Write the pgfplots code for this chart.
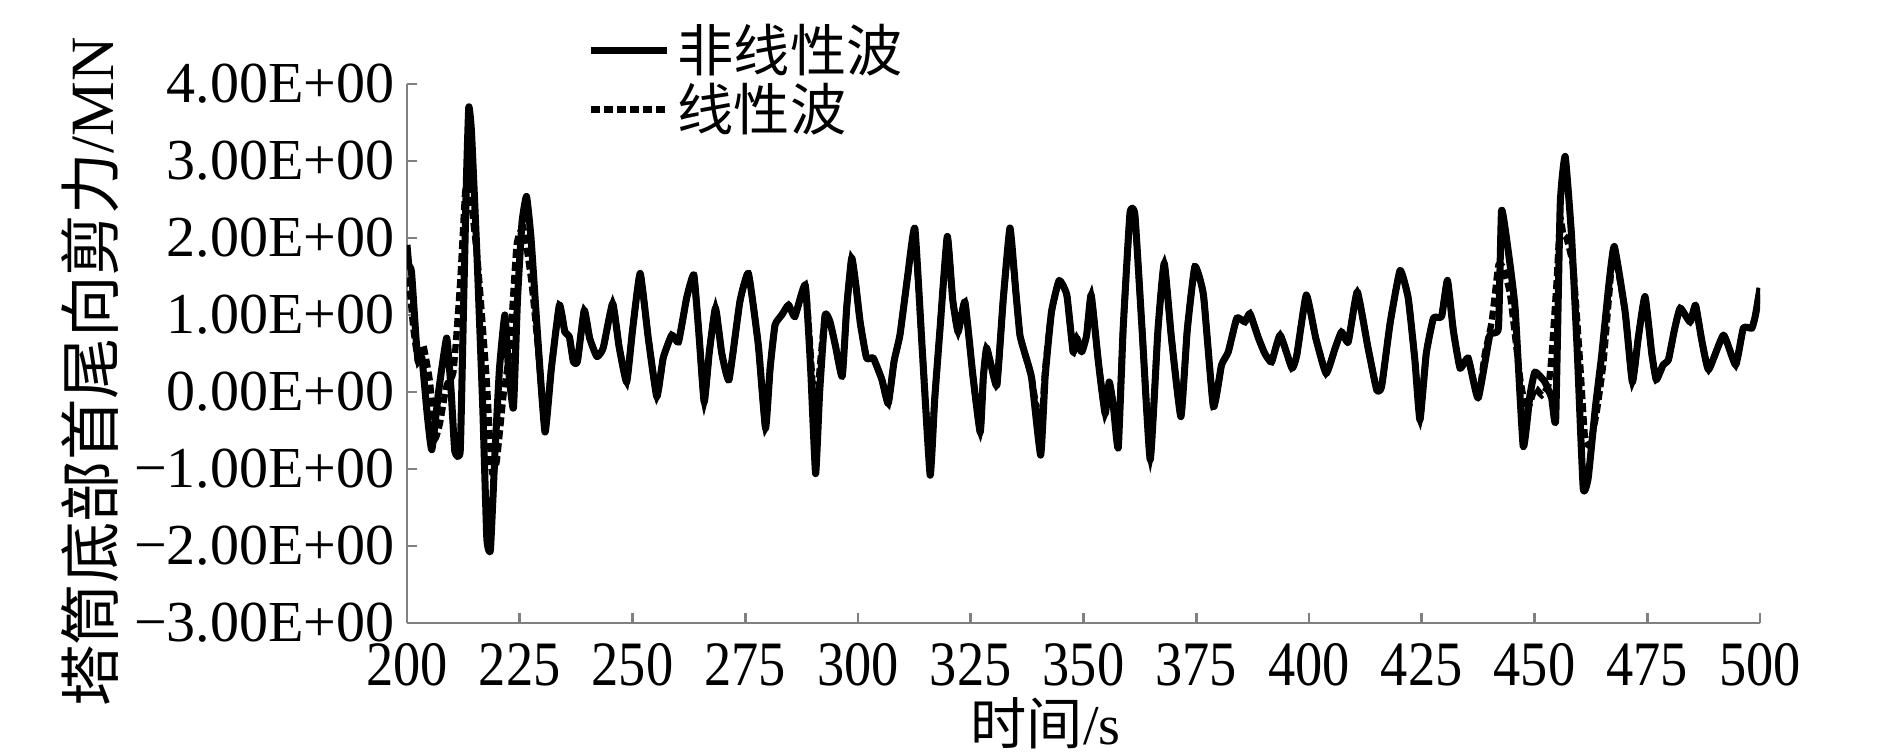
\documentclass[border=0pt]{standalone}
\usepackage{fontspec}
\setmainfont{Liberation Serif}
\newfontfamily\cjk{Noto Sans CJK SC}
\usepackage{graphicx}
\usepackage{pgfplots}
\pgfplotsset{compat=1.18}

% nonlinear wave (solid)
\pgfplotstableread{
t v
200.0 1.91
200.4 1.65
201.0 1.56
202.0 0.70
202.5 0.39
203.3 0.45
204.5 -0.30
205.5 -0.75
207.0 0.00
208.8 0.70
209.8 0.00
210.6 -0.77
211.8 -0.77
212.5 1.00
213.2 2.80
213.7 3.70
214.3 3.38
215.5 1.80
216.8 -0.20
217.7 -1.90
218.5 -2.05
219.5 -0.80
220.5 0.30
221.7 1.00
222.5 0.30
223.6 -0.21
224.5 1.20
225.5 2.20
226.5 2.54
227.5 2.00
229.0 0.70
230.6 -0.52
232.0 0.30
233.8 1.13
235.0 0.78
236.0 0.72
236.9 0.39
237.8 0.40
239.3 1.06
240.5 0.70
242.1 0.46
243.5 0.57
245.6 1.15
247.0 0.60
248.7 0.13
250.0 0.80
251.7 1.54
253.5 0.70
255.4 -0.06
256.8 0.44
258.7 0.74
260.2 0.65
262.0 1.22
263.6 1.52
264.8 0.70
265.9 -0.13
267.0 0.50
268.4 1.09
269.8 0.50
271.4 0.16
273.8 1.17
275.7 1.54
277.9 0.61
279.5 -0.47
280.5 0.30
281.6 0.87
283.1 1.00
284.6 1.13
286.0 0.98
288.3 1.39
289.5 0.30
290.6 -1.06
291.5 0.00
292.7 1.00
293.8 0.91
295.0 0.60
296.5 0.20
297.5 1.10
298.6 1.74
299.5 1.40
300.5 0.90
301.9 0.44
303.4 0.44
305.3 0.16
306.7 -0.15
308.0 0.40
309.3 0.74
311.0 1.50
312.6 2.13
314.3 0.50
316.0 -1.08
317.0 -0.10
318.2 0.83
319.8 2.02
321.0 1.20
322.2 0.78
323.7 1.17
325.5 0.20
327.1 -0.52
327.8 0.20
328.5 0.57
329.5 0.35
330.8 0.09
332.2 1.20
333.7 2.13
335.0 1.30
335.9 0.74
337.0 0.50
338.5 0.18
340.5 -0.82
341.5 0.20
342.9 1.04
344.6 1.45
346.3 1.26
347.7 0.52
348.5 0.70
349.6 0.52
350.7 0.74
351.7 1.26
353.3 0.39
354.8 -0.28
355.7 0.13
356.6 -0.17
357.7 -0.73
358.8 0.83
360.3 2.32
361.4 2.30
363.0 0.80
364.8 -0.88
366.5 0.80
367.9 1.67
369.5 0.70
371.6 -0.32
373.0 0.80
374.7 1.63
376.6 1.26
378.8 -0.19
380.6 0.35
382.1 0.52
384.0 0.96
385.8 0.91
386.9 1.02
388.8 0.70
390.2 0.50
391.7 0.39
393.6 0.74
396.2 0.31
397.3 0.48
399.4 1.26
401.5 0.70
403.8 0.24
405.8 0.57
407.2 0.78
408.7 0.65
410.7 1.30
413.0 0.60
415.0 0.03
416.1 0.07
418.0 0.90
420.2 1.58
422.0 1.22
423.5 0.40
424.6 -0.36
426.0 0.50
427.6 0.96
429.4 0.98
430.7 1.45
432.0 0.80
433.5 0.31
435.3 0.44
437.5 -0.08
440.1 0.74
442.0 0.83
442.7 2.36
444.2 1.82
445.7 1.09
447.5 -0.71
449.0 -0.04
450.1 0.26
452.3 0.13
453.8 -0.08
454.7 -0.36
455.7 2.43
456.8 3.06
458.2 2.04
459.5 0.50
460.8 -1.25
461.9 -1.12
463.5 -0.20
464.9 0.48
466.5 1.40
467.7 1.89
470.1 1.04
471.7 0.13
473.0 0.70
474.5 1.24
476.0 0.50
477.0 0.16
478.5 0.35
479.7 0.42
481.0 0.80
482.3 1.09
484.5 0.91
485.7 1.13
487.0 0.70
488.6 0.29
491.9 0.74
494.6 0.35
496.3 0.83
498.2 0.83
499.0 1.00
500.0 1.35
}\nonlinear

% linear wave (dashed)
\pgfplotstableread{
t v
200.0 1.48
200.5 1.40
201.4 0.83
202.5 0.39
203.6 0.61
205.1 0.13
206.2 -0.60
207.3 -0.41
208.8 0.09
210.3 0.26
211.8 1.43
212.9 2.60
213.6 2.69
214.3 2.43
215.8 1.61
217.7 0.13
218.8 -1.03
219.9 -0.90
221.4 -0.04
222.8 0.57
224.3 1.91
225.8 2.13
227.6 1.43
229.0 0.60
230.6 -0.45
232.0 0.30
233.8 1.13
235.0 0.78
236.0 0.72
236.9 0.39
237.8 0.40
239.3 1.06
240.5 0.70
242.1 0.46
243.5 0.57
245.6 1.15
247.0 0.60
248.7 0.13
250.0 0.80
251.7 1.54
253.5 0.70
255.4 -0.06
256.8 0.44
258.7 0.74
260.2 0.65
262.0 1.22
263.6 1.52
264.8 0.70
265.9 -0.13
267.0 0.50
268.4 1.09
269.8 0.50
271.4 0.16
273.8 1.17
275.7 1.54
277.9 0.61
279.5 -0.47
280.5 0.30
281.6 0.87
283.1 1.00
284.6 1.13
286.0 0.98
288.3 1.39
289.5 0.50
290.6 -0.47
291.5 0.30
292.7 1.00
293.8 0.91
295.0 0.60
296.5 0.20
297.5 1.10
298.6 1.74
299.5 1.40
300.5 0.90
301.9 0.44
303.4 0.44
305.3 0.16
306.7 -0.15
308.0 0.40
309.3 0.74
311.0 1.50
312.6 2.05
314.3 0.50
316.0 -0.95
317.0 -0.10
318.2 0.83
319.8 2.02
321.0 1.20
322.2 0.78
323.7 1.17
325.5 0.20
327.1 -0.52
327.8 0.20
328.5 0.57
329.5 0.35
330.8 0.09
332.2 1.20
333.7 2.05
335.0 1.30
335.9 0.74
337.0 0.50
338.5 0.18
340.5 -0.50
341.5 0.30
342.9 1.04
344.6 1.45
346.3 1.26
347.7 0.52
348.5 0.70
349.6 0.52
350.7 0.74
351.7 1.26
353.3 0.39
354.8 -0.28
355.7 0.13
356.6 -0.17
357.7 -0.60
358.8 0.83
360.3 2.28
361.4 2.28
363.0 0.80
364.8 -0.85
366.5 0.80
367.9 1.67
369.5 0.70
371.6 -0.32
373.0 0.80
374.7 1.63
376.6 1.26
378.8 -0.19
380.6 0.35
382.1 0.52
384.0 0.96
385.8 0.91
386.9 1.02
388.8 0.70
390.2 0.50
391.7 0.39
393.6 0.74
396.2 0.31
397.3 0.48
399.4 1.26
401.5 0.70
403.8 0.24
405.8 0.57
407.2 0.78
408.7 0.65
410.7 1.30
413.0 0.60
415.0 0.03
416.1 0.07
418.0 0.90
420.2 1.58
422.0 1.22
423.5 0.40
424.6 -0.36
426.0 0.50
427.6 0.96
429.4 0.98
430.7 1.45
432.0 0.80
433.5 0.31
435.3 0.44
437.5 -0.08
439.0 0.50
440.5 0.91
442.0 1.65
443.1 1.61
444.6 1.26
446.8 0.18
448.3 -0.25
450.1 0.05
451.6 -0.04
453.1 0.09
453.8 0.48
454.9 1.43
455.7 2.26
456.4 2.04
457.1 2.00
458.6 1.61
460.1 0.39
461.2 -0.60
462.3 -0.69
463.8 -0.26
465.3 0.39
467.3 1.78
467.7 1.85
470.1 1.04
471.7 0.13
473.0 0.70
474.5 1.24
476.0 0.50
477.0 0.16
478.5 0.35
479.7 0.42
481.0 0.80
482.3 1.09
484.5 0.91
485.7 1.13
487.0 0.70
488.6 0.29
491.9 0.74
494.6 0.35
496.3 0.83
498.2 0.83
499.0 1.00
500.0 1.35
}\linear

\begin{document}
\begin{tikzpicture}
\useasboundingbox (-4.07cm,-1.30cm) rectangle (14.83cm,6.23cm);
\begin{axis}[
    at={(0,0)}, anchor=south west, scale only axis,
    width=13.53cm, height=5.39cm,
    xmin=200, xmax=500, ymin=-3, ymax=4,
    xtick={200,225,...,500}, ytick={-3,-2,...,4},
    yticklabels={−3.00E+00,−2.00E+00,−1.00E+00,0.00E+00,1.00E+00,2.00E+00,3.00E+00,4.00E+00},
    axis lines=left,
    axis line style={gray, line width=0.8pt, -},
    tick style={gray, line width=0.8pt},
    major tick length=0.1cm, tick align=inside,
    yticklabel style={font=\fontsize{16.5}{19}\selectfont},
    xticklabel={\scalebox{0.86}[1]{\pgfmathprintnumber{\tick}}},
    xticklabel style={font=\fontsize{18}{21}\selectfont, yshift=-0.08cm},
    /pgf/number format/assume math mode=true,
    xlabel={{\cjk 时间}/s},
    ylabel={{\cjk 塔筒底部首尾向剪力}/MN},
    xlabel style={at={(axis description cs:0.472,-0.186)}, anchor=center,
        font=\fontsize{16}{19}\selectfont},
    ylabel style={at={(axis description cs:-0.234,0.466)}, anchor=center,
        font=\fontsize{17.5}{20}\selectfont},
    legend style={at={(axis description cs:0.133,1.125)}, anchor=north west,
        draw=none, fill=none, inner sep=0pt, row sep=-0.08cm,
        font=\fontsize{16}{19}\selectfont},
    legend cell align=left,
    legend image code/.code={\draw[#1] (0cm,0cm) -- (0.76cm,0cm);},
]
\addplot[black, line width=2pt, line join=round, smooth, tension=0.25]
    table[x=t, y=v] {\nonlinear};
\addlegendentry{\cjk 非线性波}
\addplot[black, line width=1.8pt, dash pattern=on 0.09cm off 0.04cm, smooth, tension=0.25]
    table[x=t, y=v] {\linear};
\addlegendentry{\cjk 线性波}
\end{axis}
\end{tikzpicture}
\end{document}
